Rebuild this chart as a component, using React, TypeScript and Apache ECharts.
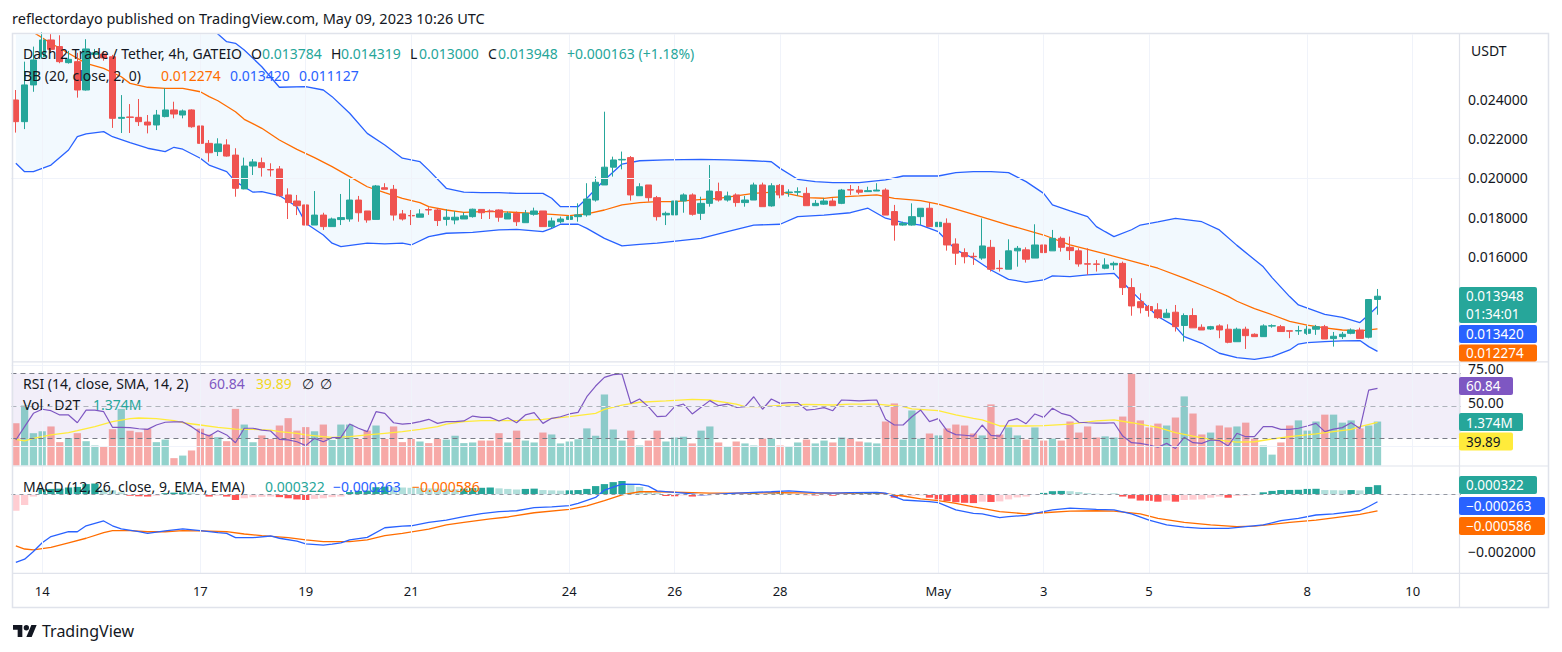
import React, { useEffect, useRef } from "react";
import * as echarts from "echarts";

// ---------------- data ----------------
const FIRST_INDEX = -3; // first visible 4h candle (Apr 13 12:00), index 0 = Apr 14 00:00
const CATEGORY_COUNT = 165; // visible slots incl. empty space on the right

const TICK_INDEX = [0, 18, 30, 42, 60, 72, 84, 102, 114, 126, 144, 156];
const TICK_TEXT = ["14", "17", "19", "21", "24", "26", "28", "May", "3", "5", "8", "10"];

const PRICE_GRID = [0.012, 0.014, 0.016, 0.018, 0.02, 0.022, 0.024, 0.026];
const PRICE_LABELS = [0.016, 0.018, 0.02, 0.022, 0.024];
const RSI_GRID = [25, 50, 75];
const RSI_LABELS = [50, 75];
const MACD_GRID = [-0.002, 0];
const MACD_LABELS = [-0.002];

// [open, high, low, close]
const OHLC: number[][] = [
  [0.02399, 0.0245, 0.02232, 0.02288], [0.02288, 0.02595, 0.0225, 0.02476], [0.02476, 0.02672, 0.02441, 0.02604],
  [0.0262, 0.02745, 0.0261, 0.02706], [0.02706, 0.02737, 0.0264, 0.02658], [0.02672, 0.0273, 0.02587, 0.02595],
  [0.0259, 0.0265, 0.02585, 0.02607], [0.02595, 0.0264, 0.02411, 0.0245], [0.0245, 0.0271, 0.02447, 0.0266],
  [0.02632, 0.0266, 0.0262, 0.0264], [0.02634, 0.0265, 0.026, 0.02614], [0.0262, 0.0263, 0.02256, 0.02305],
  [0.02305, 0.02424, 0.0223, 0.0231], [0.02312, 0.02378, 0.0223, 0.0231], [0.0231, 0.02404, 0.02266, 0.02288],
  [0.02286, 0.02322, 0.02228, 0.02271], [0.02271, 0.02348, 0.02245, 0.02322], [0.02314, 0.02459, 0.0231, 0.02348],
  [0.02348, 0.0239, 0.02305, 0.02327], [0.02322, 0.0235, 0.02305, 0.02343], [0.02348, 0.02351, 0.02257, 0.02262],
  [0.02266, 0.02293, 0.02058, 0.02177], [0.02177, 0.02194, 0.02083, 0.02129], [0.02135, 0.02203, 0.02112, 0.02174],
  [0.02169, 0.02198, 0.02109, 0.02112], [0.02117, 0.02152, 0.01904, 0.01947], [0.01944, 0.02104, 0.01942, 0.02061],
  [0.02061, 0.02097, 0.02015, 0.02082], [0.02078, 0.02104, 0.02007, 0.02053], [0.02043, 0.02075, 0.02007, 0.02041],
  [0.02046, 0.02061, 0.01904, 0.01909], [0.01913, 0.01947, 0.0179, 0.01874], [0.01882, 0.01913, 0.0181, 0.01858],
  [0.01862, 0.01913, 0.01734, 0.01759], [0.01759, 0.01933, 0.01759, 0.0181], [0.0181, 0.01822, 0.01734, 0.01751],
  [0.01751, 0.01797, 0.01751, 0.0179], [0.01787, 0.01918, 0.01759, 0.01797], [0.0179, 0.01998, 0.01776, 0.01887],
  [0.01887, 0.01908, 0.01776, 0.01822], [0.01831, 0.01831, 0.01771, 0.01785], [0.01788, 0.01964, 0.01788, 0.01959],
  [0.0195, 0.01973, 0.01942, 0.01942], [0.01942, 0.01964, 0.01782, 0.0181], [0.01816, 0.01836, 0.01782, 0.0179],
  [0.01808, 0.01836, 0.01759, 0.01806], [0.01799, 0.0184, 0.01799, 0.01816], [0.01838, 0.0185, 0.01811, 0.01836],
  [0.01836, 0.01845, 0.01754, 0.01782], [0.01788, 0.0184, 0.01756, 0.01799], [0.01785, 0.0183, 0.01763, 0.01799],
  [0.0179, 0.01823, 0.0179, 0.01806], [0.01802, 0.01843, 0.01797, 0.0184], [0.01839, 0.01839, 0.0179, 0.01822],
  [0.01831, 0.01839, 0.0179, 0.01829], [0.01836, 0.01839, 0.01776, 0.01799], [0.0179, 0.01828, 0.0179, 0.01819],
  [0.01819, 0.01828, 0.01754, 0.01776], [0.01771, 0.01836, 0.01771, 0.01819], [0.01814, 0.01848, 0.01807, 0.01831],
  [0.01831, 0.01831, 0.01751, 0.01751], [0.01751, 0.01797, 0.01742, 0.0178], [0.01776, 0.01802, 0.01768, 0.0179],
  [0.01788, 0.01828, 0.01751, 0.01802], [0.01802, 0.0187, 0.01776, 0.01811], [0.01811, 0.01973, 0.01802, 0.01892],
  [0.01887, 0.02007, 0.01879, 0.01978], [0.01964, 0.02339, 0.01964, 0.02055], [0.02055, 0.02109, 0.02007, 0.02092],
  [0.02092, 0.02135, 0.02044, 0.02095], [0.02104, 0.02112, 0.01884, 0.01913], [0.01909, 0.01973, 0.01909, 0.01955],
  [0.01964, 0.01964, 0.01879, 0.01899], [0.01899, 0.01908, 0.01782, 0.01802], [0.01811, 0.01828, 0.01759, 0.01819],
  [0.01811, 0.01942, 0.01785, 0.01882], [0.01882, 0.01921, 0.01822, 0.01913], [0.01913, 0.01921, 0.01807, 0.01814],
  [0.01819, 0.01904, 0.01785, 0.0187], [0.0187, 0.02066, 0.01853, 0.01933], [0.0193, 0.01976, 0.01879, 0.01887],
  [0.01887, 0.0193, 0.01879, 0.01908], [0.01913, 0.01921, 0.01853, 0.01874], [0.01874, 0.01908, 0.01853, 0.01887],
  [0.01887, 0.01976, 0.01887, 0.01964], [0.01964, 0.01976, 0.01853, 0.01853], [0.01857, 0.01973, 0.01853, 0.0196],
  [0.01962, 0.01969, 0.01896, 0.01913], [0.01925, 0.01942, 0.01904, 0.01928], [0.01927, 0.01952, 0.01909, 0.0193],
  [0.01921, 0.01952, 0.01858, 0.01858], [0.01858, 0.01887, 0.01858, 0.0187], [0.01866, 0.01896, 0.01862, 0.01882],
  [0.01882, 0.01896, 0.01858, 0.01858], [0.0187, 0.01944, 0.01866, 0.01938], [0.0194, 0.01964, 0.01913, 0.01938],
  [0.01938, 0.01959, 0.01916, 0.01927], [0.0193, 0.01955, 0.0193, 0.01935], [0.01933, 0.01973, 0.01933, 0.01938],
  [0.01938, 0.01947, 0.0181, 0.0181], [0.01828, 0.01862, 0.01679, 0.01759], [0.01759, 0.01776, 0.01756, 0.01768],
  [0.01759, 0.0187, 0.01756, 0.01802], [0.01802, 0.01845, 0.01759, 0.01845], [0.01845, 0.01874, 0.01751, 0.01751],
  [0.01751, 0.01828, 0.01751, 0.01773], [0.01768, 0.01793, 0.01628, 0.01657], [0.01662, 0.01691, 0.01555, 0.01615],
  [0.01618, 0.0164, 0.01563, 0.01597], [0.01599, 0.01618, 0.01555, 0.01597], [0.0159, 0.01793, 0.01581, 0.01652],
  [0.01645, 0.01683, 0.01521, 0.01533], [0.01538, 0.0158, 0.01521, 0.01536], [0.01533, 0.01686, 0.01533, 0.01627],
  [0.01627, 0.01652, 0.01546, 0.0164], [0.01632, 0.01645, 0.01567, 0.01584], [0.0159, 0.01763, 0.0159, 0.01657],
  [0.01657, 0.01662, 0.01618, 0.01618], [0.01627, 0.01734, 0.01627, 0.01691], [0.01691, 0.017, 0.01623, 0.01645],
  [0.01645, 0.017, 0.0158, 0.01628], [0.01627, 0.0164, 0.01546, 0.0156], [0.01561, 0.0164, 0.01504, 0.01559],
  [0.0156, 0.0158, 0.01521, 0.01558], [0.01538, 0.01589, 0.01533, 0.01555], [0.01555, 0.01572, 0.01529, 0.01563],
  [0.01563, 0.01572, 0.01401, 0.01439], [0.01439, 0.01487, 0.01295, 0.01345], [0.01367, 0.0141, 0.01307, 0.01336],
  [0.01342, 0.0135, 0.0129, 0.01322], [0.01325, 0.01359, 0.01278, 0.01285], [0.01285, 0.0133, 0.01285, 0.01308],
  [0.01313, 0.0135, 0.01214, 0.01239], [0.01245, 0.01307, 0.01163, 0.01296], [0.01296, 0.01333, 0.01233, 0.01233],
  [0.01236, 0.01251, 0.01222, 0.01222], [0.01227, 0.01243, 0.01222, 0.01239], [0.01243, 0.01251, 0.0118, 0.01222],
  [0.01226, 0.01251, 0.01154, 0.01159], [0.01162, 0.01234, 0.01162, 0.01226], [0.01226, 0.01239, 0.01125, 0.01193],
  [0.012, 0.01205, 0.01188, 0.01188], [0.01188, 0.01251, 0.01188, 0.01243], [0.01242, 0.01251, 0.01234, 0.01244],
  [0.01239, 0.01248, 0.01214, 0.01214], [0.01218, 0.01218, 0.0118, 0.01216], [0.01217, 0.01243, 0.01197, 0.01219],
  [0.01205, 0.01243, 0.01197, 0.01226], [0.01226, 0.01248, 0.01197, 0.01239], [0.01239, 0.01248, 0.01176, 0.01176],
  [0.01178, 0.01212, 0.01137, 0.0119], [0.01188, 0.01212, 0.01176, 0.012], [0.01205, 0.0123, 0.012, 0.01222],
  [0.01222, 0.01234, 0.01179, 0.01179], [0.01185, 0.01378, 0.01179, 0.01378], [0.013784, 0.014319, 0.013, 0.013948],
];

// volume in millions of D2T
const VOLUME_M = [
  1.32, 1.875, 1.01, 1.07, 1.22, 0.73, 0.86, 1.01, 0.76, 0.625,
  0.59, 1.135, 1.77, 1.09, 1.04, 1.15, 0.73, 0.81, 0.23, 0.31,
  0.47, 1.15, 0.97, 0.885, 0.76, 1.77, 1.28, 0.73, 0.94, 0.83,
  1.25, 1.48, 1.09, 1.2, 1.07, 1.28, 0.8, 1.28, 1.28, 0.83,
  1.09, 1.25, 0.83, 1.22, 0.73, 0.83, 0.75, 0.7, 0.83, 0.81,
  0.93, 0.7, 0.72, 0.78, 0.78, 1.01, 0.72, 1.09, 0.78, 0.72,
  1.03, 0.97, 0.69, 0.75, 0.82, 1.16, 0.93, 2.22, 1.125, 0.78,
  1.09, 0.625, 0.78, 1.09, 0.75, 0.875, 0.9, 0.69, 1.09, 1.22,
  0.72, 0.59, 0.75, 0.69, 0.625, 0.84, 0.84, 0.625, 0.59, 0.72,
  0.81, 0.69, 0.78, 0.72, 0.875, 0.84, 0.75, 0.72, 0.69, 1.375,
  1.94, 0.81, 1.72, 0.84, 1.0, 0.94, 1.16, 1.28, 1.25, 1.0,
  0.94, 1.91, 0.97, 1.19, 0.94, 0.81, 1.19, 0.78, 0.84, 0.78,
  1.375, 1.03, 1.22, 0.875, 0.91, 0.875, 1.53, 2.86, 1.41, 1.19,
  1.31, 1.25, 1.5, 2.16, 1.625, 0.97, 1.03, 1.25, 1.19, 1.22,
  1.34, 0.84, 0.625, 0.34, 0.72, 1.25, 1.41, 1.09, 1.375, 1.59,
  1.59, 1.34, 1.41, 1.16, 1.25, 1.374,
];

const RSI = [
  29.1, 37.3, 45.5, 48, 47.1, 44.5, 44.5, 39.7, 47.5, 47.5,
  46.5, 36.9, 36.9, 36.7, 36, 35.6, 38.3, 40, 40.2, 40.2,
  37.3, 33.6, 31.5, 34.8, 32.2, 27.4, 36.3, 36.3, 35.2, 34.6,
  29.5, 29.1, 28, 25.6, 30.1, 28, 30.5, 30.7, 38.9, 36.3,
  34.2, 46.5, 45.5, 39.7, 38.9, 39.3, 40.4, 41.8, 39.3, 40.4,
  40.4, 40.8, 43.8, 43, 43, 40.8, 42.8, 39.7, 44.5, 45.9,
  39.3, 42.4, 43.4, 45.1, 46.1, 55.7, 62.3, 67.6, 69.3, 69.7,
  51.6, 54.3, 49.6, 43.4, 43.8, 49.6, 51.2, 45.1, 49.2, 53.3,
  50.2, 51.2, 49.2, 49.6, 55.7, 48, 54.3, 51.6, 52.1, 52.1,
  47.5, 48, 49, 47.1, 53.7, 53.5, 53.1, 53.5, 53.7, 41.8,
  38.3, 38.3, 43.4, 47.5, 40.4, 42.2, 34.8, 32.4, 32, 31.5,
  38.3, 31.9, 31.5, 40.8, 42.2, 39.1, 45.1, 43, 48.6, 45.5,
  44.1, 40, 39.7, 39.5, 39.5, 39.7, 31.5, 27.4, 27, 26,
  24.6, 27, 23.9, 30.7, 27.4, 27, 29.1, 28.7, 25.4, 33.2,
  31.1, 31.1, 37.3, 37.3, 35.6, 35.6, 36.3, 37.7, 39.3, 34.2,
  35.8, 36.7, 39.7, 36.1, 59.8, 60.84,
];

// [candle index, value]
const RSI_MA = [
  [-3, 29.5], [-2, 28.5], [-1, 30.1], [1, 32.2], [3, 33.6], [4, 34.8], [6, 37.3], [8, 40.4], [10, 42.2], [11, 42.6],
  [13, 42.2], [15, 41], [16, 39.7], [18, 38.3], [20, 36.9], [22, 35.8], [24, 35.6], [26, 35.2], [27, 34.2], [29, 33.2],
  [30, 32.2], [32, 31.1], [33, 30.7], [35, 31.1], [37, 32.2], [39, 33.2], [41, 34.2], [43, 35.6], [45, 37.3], [46, 38.9],
  [48, 40.4], [50, 41], [54, 41], [57, 41.8], [60, 43.4], [63, 45.5], [64, 47.9], [66, 50.6], [68, 52.3], [71, 53.1],
  [74, 54.1], [76, 53.7], [79, 51.2], [80, 49.6], [82, 49.6], [84, 50.4], [87, 51], [90, 50.6], [92, 51.2], [95, 51.2],
  [98, 49.6], [99, 48.2], [102, 47.1], [104, 44.5], [106, 42.4], [107, 41.4], [109, 37.7], [112, 37.7], [114, 37.9],
  [117, 38.9], [120, 40.8], [122, 41.4], [124, 39.7], [127, 36.9], [129, 33.6], [131, 31.5], [133, 29.5], [136, 27.8],
  [138, 28], [140, 29.7], [142, 31.1], [145, 32.8], [147, 34.2], [149, 35.6], [150, 37.3], [152, 39.89],
];

const MACD_HIST = [
  -0.00058, -0.00038, -0.00008, 0.00018, 0.00019, 0.0002, 0.00024, 0.00026, 0.00036, 0.00038,
  0.00018, 0.00014, 0.00007, -0.00005, -0.00007, -0.00008, -0.00005, 0.00004, 0.00006, 0.00007,
  0.00006, -0.00002, -0.00008, -0.00005, -0.00008, -0.0002, -0.00014, -0.0001, -0.00009, -0.00008,
  -0.0001, -0.00014, -0.00018, -0.0002, -0.00016, -0.00014, -0.0001, -0.00008, 0.00008, 0.00012,
  0.00013, 0.00025, 0.00027, 0.00025, 0.00024, 0.00023, 0.00022, 0.00021, 0.0002, 0.00019,
  0.00018, 0.0002, 0.00022, 0.00023, 0.00024, 0.00021, 0.00019, 0.00017, 0.00019, 0.0002,
  0.00015, 0.00014, 0.00013, 0.00014, 0.00015, 0.00019, 0.00029, 0.00036, 0.00043, 0.00047,
  0.00033, 0.00026, 0.00009, 0.00005, -0.00006, -0.00007, -0.00004, -0.00008, -0.00005, -0.00003,
  -0.00002, -0.00001, 0.00001, 0.00002, 0.00005, -0.00002, 0.00003, 0.00004, 0.00003, 0.00001,
  -0.00003, -0.00004, -0.00003, -0.00005, 0.00002, 0.00004, 0.00005, 0.000055, 0.00006, -0.00002,
  -0.00012, -0.00008, -0.00006, -0.00004, -0.00012, -0.00018, -0.00024, -0.00028, -0.0003, -0.00031,
  -0.00026, -0.00027, -0.00025, -0.00018, -0.00011, -0.00008, -0.00002, 0.00005, 0.00011, 0.00012,
  0.00011, 0.00008, 0.00004, 0.00002, 0.00001, 0.00002, -0.00008, -0.00015, -0.00022, -0.00023,
  -0.00026, -0.00022, -0.00026, -0.0002, -0.00019, -0.00018, -0.00012, -0.00008, -0.00012, -0.00006,
  -0.00004, 0.00001, 0.00007, 0.00012, 0.00015, 0.000155, 0.00016, 0.00019, 0.000195, 0.00015,
  0.000145, 0.00014, 0.00015, 0.00014, 0.00026, 0.000322,
];

const MACD_LINE = [
  [-3, -0.0024], [-2, -0.00229], [-1, -0.00202], [0, -0.00171], [1, -0.00149], [3, -0.00132], [4, -0.00132],
  [5, -0.00111], [7, -0.00094], [8, -0.00111], [9, -0.00122], [11, -0.00132], [12, -0.00138], [14, -0.00129],
  [16, -0.00122], [18, -0.00128], [20, -0.00135], [21, -0.00138], [22, -0.00153], [24, -0.00153], [26, -0.00147],
  [27, -0.00155], [29, -0.00165], [30, -0.00175], [32, -0.00179], [33, -0.00176], [34, -0.00171], [35, -0.00161],
  [37, -0.00152], [39, -0.00118], [41, -0.00112], [42, -0.00111], [44, -0.00099], [46, -0.00091], [48, -0.00079],
  [50, -0.00068], [52, -0.00061], [54, -0.00058], [56, -0.00047], [58, -0.00044], [60, -0.0004], [61, -0.00032],
  [63, -0.00011], [64, 0.00015], [66, 0.00036], [68, 0.00035], [69, 0.00029], [70, 0.00012], [73, 0.00004],
  [75, -0.00002], [77, 0.00001], [79, 0.00004], [81, 0.00007], [83, 0.00009], [85, 0.00012], [88, 0.00006],
  [90, 0.00004], [92, 0.00006], [95, 0.00007], [96, 0.00004], [97, -0.00008], [98, -0.0002], [101, -0.00026],
  [102, -0.00029], [104, -0.00055], [106, -0.00067], [107, -0.00069], [109, -0.00082], [110, -0.00079],
  [112, -0.00074], [113, -0.00067], [115, -0.00055], [117, -0.00049], [120, -0.00053], [122, -0.00055],
  [123, -0.00062], [124, -0.00069], [126, -0.00091], [128, -0.00108], [130, -0.00116], [132, -0.0012],
  [135, -0.0012], [137, -0.00114], [139, -0.00108], [141, -0.00093], [143, -0.00085], [145, -0.00073],
  [147, -0.00069], [150, -0.00058], [151, -0.00043], [152, -0.000263],
];

const MACD_SIGNAL = [
  [-3, -0.00182], [-2, -0.00193], [-1, -0.00196], [1, -0.00187], [3, -0.00171], [5, -0.00155], [7, -0.00135],
  [8, -0.00128], [10, -0.00128], [12, -0.00132], [14, -0.00132], [16, -0.00128], [18, -0.00129], [21, -0.00132],
  [23, -0.0014], [25, -0.00146], [28, -0.00153], [30, -0.00161], [32, -0.00167], [35, -0.00167], [37, -0.00161],
  [39, -0.00146], [41, -0.00138], [44, -0.00123], [46, -0.00108], [48, -0.00099], [51, -0.00087], [53, -0.0008],
  [56, -0.00065], [60, -0.00053], [62, -0.00041], [64, -0.00022], [66, -0.00002], [68, 0.00009], [70, 0.00009],
  [73, 0.00007], [76, 0.00004], [80, 0.00004], [84, 0.00006], [88, 0.00004], [92, 0.00004], [95, 0.00006],
  [98, -0.00006], [100, -0.00016], [102, -0.00022], [104, -0.00032], [106, -0.00044], [109, -0.00061],
  [112, -0.00069], [114, -0.00065], [117, -0.00059], [120, -0.00058], [122, -0.00059], [125, -0.00069],
  [127, -0.00085], [130, -0.00099], [133, -0.00108], [136, -0.00114], [138, -0.00112], [140, -0.00106],
  [142, -0.00099], [145, -0.00091], [147, -0.00083], [150, -0.00071], [151, -0.00065], [152, -0.000586],
];

const BB_BASIS = [
  [-3, 0.0283], [-2, 0.0279], [-1, 0.02745], [1, 0.02689], [3, 0.02638], [5, 0.02586], [7, 0.02561], [9, 0.02518],
  [10, 0.02484], [12, 0.02464], [14, 0.02458], [16, 0.02458], [18, 0.02441], [19, 0.02416], [20, 0.02395],
  [22, 0.02339], [23, 0.023], [25, 0.02254], [27, 0.02194], [29, 0.02146], [31, 0.02104], [33, 0.02058],
  [35, 0.02007], [37, 0.01955], [39, 0.01925], [41, 0.01896], [43, 0.01874], [44, 0.01853], [46, 0.01836],
  [48, 0.01824], [50, 0.01828], [52, 0.01828], [56, 0.01819], [58, 0.01814], [60, 0.01807], [62, 0.01816],
  [64, 0.01836], [66, 0.01862], [68, 0.01874], [70, 0.01879], [72, 0.01879], [74, 0.01887], [77, 0.01896],
  [79, 0.01908], [81, 0.01921], [84, 0.0193], [85, 0.01918], [87, 0.01899], [89, 0.01896], [90, 0.01901],
  [93, 0.01908], [95, 0.01913], [97, 0.01896], [100, 0.01884], [102, 0.01866], [104, 0.0184], [106, 0.01814],
  [110, 0.01759], [114, 0.01708], [117, 0.01657], [121, 0.01611], [125, 0.01563], [127, 0.01538], [130, 0.01487],
  [133, 0.01433], [135, 0.01394], [136, 0.01369], [138, 0.01331], [140, 0.013], [142, 0.01266], [144, 0.01247],
  [146, 0.01233], [148, 0.01222], [150, 0.01217], [152, 0.012274],
];

const BB_UPPER = [
  [-3, 0.0345], [3, 0.0335], [8, 0.0318], [12, 0.0305], [16, 0.0292], [19, 0.028], [20, 0.02736], [21, 0.02697],
  [22, 0.02689], [23, 0.02655], [25, 0.02569], [27, 0.02464], [30, 0.02467], [32, 0.0245], [33, 0.02416],
  [35, 0.02331], [37, 0.02228], [39, 0.02169], [41, 0.02101], [43, 0.02083], [44, 0.0204], [46, 0.01947],
  [48, 0.01927], [50, 0.01925], [52, 0.01925], [54, 0.01921], [57, 0.01921], [58, 0.01896], [59, 0.01853],
  [61, 0.01853], [62, 0.01896], [64, 0.0199], [66, 0.02071], [68, 0.02088], [71, 0.02092], [75, 0.02095],
  [78, 0.02092], [81, 0.02088], [83, 0.02083], [84, 0.02049], [86, 0.01993], [88, 0.01981], [90, 0.01976],
  [93, 0.01976], [96, 0.0199], [98, 0.0201], [100, 0.0201], [102, 0.0201], [104, 0.02027], [106, 0.02032],
  [108, 0.02032], [110, 0.02027], [112, 0.01981], [114, 0.01921], [115, 0.01862], [117, 0.01831], [119, 0.01802],
  [120, 0.01751], [121, 0.01725], [122, 0.017], [124, 0.01735], [125, 0.01759], [127, 0.01775], [129, 0.01793],
  [132, 0.01776], [134, 0.01734], [136, 0.01655], [139, 0.01545], [140, 0.0149], [142, 0.01393], [143, 0.0135],
  [146, 0.01302], [148, 0.01287], [150, 0.0126], [151, 0.013], [152, 0.01342],
];

const BB_LOWER = [
  [-3, 0.02075], [-2, 0.02032], [-1, 0.02032], [1, 0.02066], [3, 0.02143], [4, 0.02211], [5, 0.02225],
  [7, 0.02237], [8, 0.02211], [10, 0.02181], [12, 0.02152], [14, 0.02135], [15, 0.02157], [16, 0.02147],
  [18, 0.02101], [19, 0.02066], [21, 0.02032], [22, 0.01981], [24, 0.01927], [25, 0.0193], [27, 0.0191],
  [29, 0.01853], [30, 0.01768], [32, 0.01708], [33, 0.01666], [34, 0.01649], [37, 0.01666], [39, 0.01663],
  [41, 0.01666], [42, 0.01657], [44, 0.017], [46, 0.01717], [49, 0.01722], [52, 0.01734], [54, 0.01737],
  [57, 0.01725], [58, 0.01742], [59, 0.01763], [61, 0.01763], [62, 0.01742], [64, 0.01691], [66, 0.01652],
  [68, 0.0166], [70, 0.01666], [75, 0.01691], [78, 0.01725], [81, 0.01759], [84, 0.01763], [86, 0.01802],
  [89, 0.0181], [92, 0.01822], [94, 0.01845], [96, 0.01794], [98, 0.01771], [100, 0.01759], [102, 0.01725],
  [104, 0.01632], [106, 0.01589], [108, 0.01529], [110, 0.01481], [112, 0.01466], [114, 0.01478], [115, 0.01499],
  [117, 0.01495], [119, 0.01504], [122, 0.01512], [124, 0.0142], [125, 0.01376], [127, 0.01291], [129, 0.01239],
  [130, 0.01188], [132, 0.01154], [134, 0.01103], [136, 0.01081], [138, 0.01072], [140, 0.01086], [142, 0.0112],
  [143, 0.0115], [144, 0.01157], [146, 0.01162], [148, 0.01166], [150, 0.01168], [151, 0.01137], [152, 0.011127],
];

const PRICE_CHANGE = "+0.000163 (+1.18%)";
const COUNTDOWN = "01:34:01";

// ---------------- styling ----------------
const FONT = "'Noto Sans', 'DejaVu Sans', sans-serif";
const TEXT = "#131722";
const GRID_COLOR = "#F0F3FA";
const BORDER = "#E0E3EB";
const UP = "#26A69A";
const DOWN = "#EF5350";
const BLUE = "#2962FF";
const ORANGE = "#FF6D00";
const PURPLE = "#7E57C2";
const YELLOW = "#FFEB3B";
const LEGEND_SIZE = 14;
const SCALE_SIZE = 14;

const GRID_LEFT = 11.45;
const GRID_WIDTH = 1449.5;

const TV_LOGO = "M14 22H7V11H0V4h14v18zM28 22h-8l7.5-18h8L28 22zM16 8a4 4 0 1 0 8 0a4 4 0 1 0 -8 0z";
echarts.graphic.registerShape("tvlogo", echarts.graphic.extendPath(TV_LOGO, {}));

const cat = (i: number) => "c" + i;
const pairs = (arr: number[][]) => arr.map(([i, v]) => [i - FIRST_INDEX, v]);
const fmt = (v: number, d: number) => (v < 0 ? "\u2212" + Math.abs(v).toFixed(d) : v.toFixed(d));
const last = (arr: number[][]) => arr[arr.length - 1][1];

function buildOption() {
  const categories = Array.from({ length: CATEGORY_COUNT }, (_, k) => cat(k + FIRST_INDEX));
  const tickMap = new Map<number, string>(TICK_INDEX.map((i, k) => [i - FIRST_INDEX, TICK_TEXT[k]]));

  const vGrid = TICK_INDEX.map((i) => ({ xAxis: cat(i) }));
  const helper = (xi: number, yi: number, yVals: number[], extra: any[] = [], area?: any) => ({
    type: "line",
    xAxisIndex: xi,
    yAxisIndex: yi,
    data: [],
    silent: true,
    z: 0,
    symbol: "none",
    markLine: {
      silent: true,
      symbol: ["none", "none"],
      label: { show: false },
      emphasis: { disabled: true },
      lineStyle: { color: GRID_COLOR, width: 1, type: "solid" },
      data: [...yVals.map((v) => ({ yAxis: v })), ...vGrid, ...extra],
    },
    ...(area ? { markArea: area } : {}),
  });

  const lastClose = OHLC[OHLC.length - 1][3];

  const xAxisBase = (gi: number, labels: boolean) => ({
    type: "category",
    gridIndex: gi,
    data: categories,
    boundaryGap: true,
    axisLine: { show: false },
    axisTick: { show: false },
    splitLine: { show: false },
    axisPointer: { show: false },
    axisLabel: labels
      ? {
          show: true,
          interval: (index: number) => tickMap.has(index),
          formatter: (_v: string, index: number) => tickMap.get(index) ?? "",
          color: TEXT,
          fontSize: 13,
          fontFamily: FONT,
          margin: 11,
        }
      : { show: false },
  });

  const yAxisBase = (gi: number, min: number, max: number, labels: number[] | null, f: (v: number) => string, rich?: any) => ({
    type: "value",
    gridIndex: gi,
    position: "right",
    min,
    max,
    axisLine: { show: false },
    axisTick: { show: false },
    splitLine: { show: false },
    axisLabel: labels
      ? { show: true, customValues: labels, formatter: f, color: TEXT, fontSize: SCALE_SIZE, fontFamily: FONT, margin: 7, ...(rich ? { rich } : {}) }
      : { show: false },
  });

  const dashed = (v: number, color: string) => ({ yAxis: v, lineStyle: { color, type: [5, 4], width: 1 } });

  const histData = MACD_HIST.map((v, k) => {
    const prev = k === 0 ? -Infinity : MACD_HIST[k - 1];
    const color = v >= 0 ? (prev < v ? "#26A69A" : "#B2DFDB") : prev < v ? "#FFCDD2" : "#FF5252";
    return { value: v, itemStyle: { color } };
  });
  const volData = VOLUME_M.map((v, k) => ({
    value: v,
    itemStyle: { color: OHLC[k][3] >= OHLC[k][0] ? "rgba(38,166,154,0.5)" : "rgba(239,83,80,0.5)" },
  }));

  const txt = (x: number, y: number, text: string, fill: string, size = LEGEND_SIZE, extra: any = {}) => ({
    type: "text",
    x,
    y,
    silent: true,
    z: 100,
    style: { text, fill, fontSize: size, fontFamily: FONT, verticalAlign: "middle", align: "left", ...extra },
  });
  const badge = (y: number, h: number, w: number, fill: string, lines: string[], tf = "#FFFFFF", ty = 9) => [
    { type: "rect", silent: true, z: 110, shape: { x: 1459, y, width: w, height: h, r: 2 }, style: { fill } },
    ...lines.map((t, k) => ({ ...txt(1466, y + ty + k * 18, t, tf, 13.5), z: 111 })),
  ];

  const graphic: any[] = [
    txt(12, 18, "reflectordayo published on TradingView.com, May 09, 2023 10:26 UTC", TEXT, 14.5),
    // frame
    { type: "rect", silent: true, z: 90, shape: { x: 12.5, y: 33.5, width: 1536, height: 574 }, style: { fill: "none", stroke: BORDER, lineWidth: 1.5 } },
    { type: "line", silent: true, z: 90, shape: { x1: 12.5, y1: 361.8, x2: 1548.5, y2: 361.8 }, style: { stroke: BORDER, lineWidth: 1.2 } },
    { type: "line", silent: true, z: 90, shape: { x1: 12.5, y1: 466, x2: 1548.5, y2: 466 }, style: { stroke: BORDER, lineWidth: 1.2 } },
    { type: "line", silent: true, z: 90, shape: { x1: 12.5, y1: 573.3, x2: 1548.5, y2: 573.3 }, style: { stroke: BORDER, lineWidth: 1.2 } },
    { type: "line", silent: true, z: 90, shape: { x1: 1459.5, y1: 33.5, x2: 1459.5, y2: 607.5 }, style: { stroke: BORDER, lineWidth: 1.2 } },
    txt(1471, 50, "USDT", TEXT, SCALE_SIZE),
    // main legend
    txt(23, 53, "Dash 2 Trade / Tether, 4h, GATEIO", TEXT),
    txt(251, 53, "O", TEXT), txt(262, 53, OHLC[OHLC.length - 1][0].toFixed(6), UP),
    txt(331, 53, "H", TEXT), txt(341, 53, OHLC[OHLC.length - 1][1].toFixed(6), UP),
    txt(410, 53, "L", TEXT), txt(419, 53, OHLC[OHLC.length - 1][2].toFixed(6), UP),
    txt(488, 53, "C", TEXT), txt(498, 53, lastClose.toFixed(6), UP),
    txt(567, 53, PRICE_CHANGE, UP),
    txt(23, 75, "BB (20, close, 2, 0)", TEXT),
    txt(161, 75, last(BB_BASIS).toFixed(6), ORANGE),
    txt(230, 75, last(BB_UPPER).toFixed(6), BLUE),
    txt(299, 75, last(BB_LOWER).toFixed(6), BLUE),
    // RSI / volume legend
    txt(23, 383, "RSI (14, close, SMA, 14, 2)", TEXT),
    txt(209, 383, RSI[RSI.length - 1].toFixed(2), PURPLE),
    txt(256, 383, last(RSI_MA).toFixed(2), "#F2D81D"),
    txt(302, 383, "\u2205", TEXT), txt(320, 383, "\u2205", TEXT),
    txt(23, 404, "Vol \u00B7 D2T", TEXT),
    txt(93, 404, VOLUME_M[VOLUME_M.length - 1].toFixed(3) + "M", UP),
    // MACD legend
    txt(23, 486, "MACD (12, 26, close, 9, EMA, EMA)", TEXT),
    txt(265, 486, fmt(MACD_HIST[MACD_HIST.length - 1], 6), UP),
    txt(333, 486, fmt(last(MACD_LINE), 6), BLUE),
    txt(412, 486, fmt(last(MACD_SIGNAL), 6), ORANGE),
    // badges on the price scale
    ...badge(287, 36, 78, UP, [lastClose.toFixed(6), COUNTDOWN]),
    ...badge(325, 18, 78, BLUE, [last(BB_UPPER).toFixed(6)]),
    ...badge(344.5, 17, 78, ORANGE, [last(BB_BASIS).toFixed(6)], "#FFFFFF", 8),
    ...badge(377, 18, 54, PURPLE, [RSI[RSI.length - 1].toFixed(2)]),
    ...badge(413, 18, 64, UP, [VOLUME_M[VOLUME_M.length - 1].toFixed(3) + "M"], "#FFFFFF", 9.5),
    ...badge(432.5, 18, 54, YELLOW, [last(RSI_MA).toFixed(2)], TEXT),
    ...badge(476, 18, 78, UP, [fmt(MACD_HIST[MACD_HIST.length - 1], 6)]),
    ...badge(497, 18, 86, BLUE, [fmt(last(MACD_LINE), 6)]),
    ...badge(517, 18, 86, ORANGE, [fmt(last(MACD_SIGNAL), 6)]),
    // footer logo
    { type: "tvlogo", silent: true, z: 100, x: 13, y: 622.4, scaleX: 0.667, scaleY: 0.667, style: { fill: TEXT } },
    txt(42, 631, "TradingView", TEXT, 16),
  ];

  return {
    animation: false,
    backgroundColor: "#FFFFFF",
    textStyle: { fontFamily: FONT },
    grid: [
      { left: GRID_LEFT, width: GRID_WIDTH, top: 34.5, height: 327 },
      { left: GRID_LEFT, width: GRID_WIDTH, top: 362.5, height: 103 },
      { left: GRID_LEFT, width: GRID_WIDTH, top: 466.5, height: 106.5 },
    ],
    xAxis: [xAxisBase(0, false), xAxisBase(1, false), xAxisBase(2, true)],
    yAxis: [
      yAxisBase(0, 0.010608, 0.02734, PRICE_LABELS, (v) => v.toFixed(6)),
      yAxisBase(1, 13.38, 76.77, RSI_LABELS, (v) => (v >= 75 ? "{t|" + v.toFixed(2) + "}" : "{m|" + v.toFixed(2) + "}"), {
        t: { padding: [7, 0, 0, 0], fontSize: SCALE_SIZE, fontFamily: FONT, color: TEXT },
        m: { padding: [0, 0, 6, 0], fontSize: SCALE_SIZE, fontFamily: FONT, color: TEXT },
      }),
      yAxisBase(1, 0, 3.22, null, (v) => String(v)),
      yAxisBase(2, -0.002776, 0.000981, MACD_LABELS, (v) => fmt(v, 6)),
    ],
    graphic,
    series: [
      helper(0, 0, PRICE_GRID),
      {
        type: "custom",
        name: "bbfill",
        xAxisIndex: 0,
        yAxisIndex: 0,
        silent: true,
        z: 1,
        data: [[0, 0]],
        renderItem: (params: any, api: any) => {
          const up = pairs(BB_UPPER).map((p) => api.coord(p));
          const lo = pairs(BB_LOWER).map((p) => api.coord(p)).reverse();
          const cs = params.coordSys;
          const pts = echarts.graphic.clipPointsByRect(up.concat(lo), { x: cs.x, y: cs.y, width: cs.width, height: cs.height });
          return { type: "polygon", shape: { points: pts }, style: { fill: "rgba(33,150,243,0.06)" } };
        },
      },
      { type: "line", name: "upper", xAxisIndex: 0, yAxisIndex: 0, data: pairs(BB_UPPER), symbol: "none", z: 2, silent: true, lineStyle: { color: BLUE, width: 1.3 } },
      { type: "line", name: "lower", xAxisIndex: 0, yAxisIndex: 0, data: pairs(BB_LOWER), symbol: "none", z: 2, silent: true, lineStyle: { color: BLUE, width: 1.3 } },
      { type: "line", name: "basis", xAxisIndex: 0, yAxisIndex: 0, data: pairs(BB_BASIS), symbol: "none", z: 2, silent: true, lineStyle: { color: ORANGE, width: 1.3 } },
      {
        type: "candlestick",
        xAxisIndex: 0,
        yAxisIndex: 0,
        z: 3,
        barWidth: 6.8,
        clip: true,
        data: OHLC.map(([o, h, l, c]) => [o, c, l, h]),
        itemStyle: { color: UP, color0: DOWN, borderColor: UP, borderColor0: DOWN, borderWidth: 1 },
      },
      // RSI + volume pane
      helper(1, 1, RSI_GRID, [dashed(70, "#787B86"), dashed(50, "rgba(120,123,134,0.55)"), dashed(30, "#787B86")], {
        silent: true,
        itemStyle: { color: "rgba(126,87,194,0.1)" },
        data: [[{ yAxis: 70 }, { yAxis: 30 }]],
      }),
      { type: "bar", xAxisIndex: 1, yAxisIndex: 2, data: volData, barWidth: 7.3, z: 1, silent: true },
      { type: "line", xAxisIndex: 1, yAxisIndex: 1, data: pairs(RSI_MA), symbol: "none", z: 3, silent: true, lineStyle: { color: YELLOW, width: 1.3 } },
      { type: "line", xAxisIndex: 1, yAxisIndex: 1, data: RSI, symbol: "none", z: 4, silent: true, lineStyle: { color: PURPLE, width: 1.2 } },
      // MACD pane
      helper(2, 3, MACD_GRID, [{ yAxis: 0, lineStyle: { color: "#9598A1", type: [4, 4], width: 1 } }]),
      { type: "bar", xAxisIndex: 2, yAxisIndex: 3, data: histData, barWidth: 7.3, z: 1, silent: true },
      { type: "line", xAxisIndex: 2, yAxisIndex: 3, data: pairs(MACD_SIGNAL), symbol: "none", z: 2, silent: true, lineStyle: { color: ORANGE, width: 1.3 } },
      { type: "line", xAxisIndex: 2, yAxisIndex: 3, data: pairs(MACD_LINE), symbol: "none", z: 3, silent: true, lineStyle: { color: BLUE, width: 1.3 } },
    ],
  };
}

export default function App() {
  const ref = useRef<HTMLDivElement>(null);
  useEffect(() => {
    if (!ref.current) return;
    const chart = echarts.init(ref.current, undefined, { renderer: "svg" });
    chart.setOption(buildOption() as any);
    return () => chart.dispose();
  }, []);
  return (
    <div
      ref={ref}
      style={{ position: "fixed", left: 0, top: 0, width: 1562, height: 652, background: "#FFFFFF" }}
    />
  );
}
